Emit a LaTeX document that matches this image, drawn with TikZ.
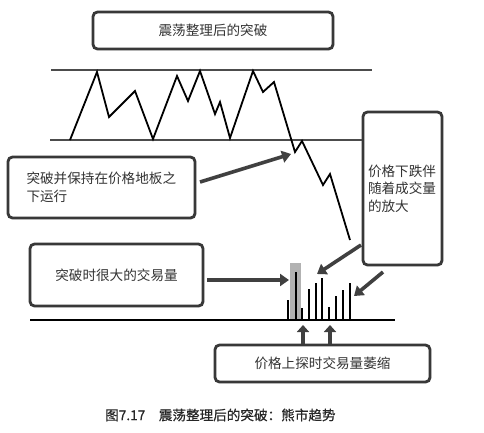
\documentclass[tikz,border=0pt]{standalone}
\usepackage{fontspec}
\newfontfamily\cjk{Noto Sans CJK SC}
\newfontfamily\cjkb{Noto Sans CJK SC}[FakeBold=0.6]
\usetikzlibrary{shadows,arrows.meta}
\begin{document}
\begin{tikzpicture}[x=1pt,y=-1pt,
  box/.style={draw=black!78, line width=2.8pt, rounded corners=4.5pt, fill=white,
    drop shadow={shadow xshift=1.2pt, shadow yshift=-1.2pt, opacity=0.35},
    font=\cjk\fontsize{13.6pt}{17.5pt}\selectfont, text=black!80, inner sep=0pt},
  bigarrow/.style={draw=black!75, line width=3.6pt, -{Triangle[length=9pt,width=12pt]}},
  uparrow/.style={draw=black!75, line width=4pt, -{Triangle[length=7pt,width=12pt]}},
  hline/.style={draw=black!70, line width=1.4pt},
  price/.style={draw=black, line width=1.8pt, line join=miter},
  bar/.style={draw=black, line width=1.8pt}
]
\useasboundingbox (0,0) rectangle (484,432);
\fill[white] (0,0) rectangle (484,432);

% boxes
\node[box, minimum width=240pt, minimum height=37pt] (top) at (213,30.5) {震荡整理后的突破};
\node[box, minimum width=187pt, minimum height=61pt, text width=150pt, align=left] (floor) at (101.5,187.5) {突破并保持在价格地板之\\下运行};
\node[box, minimum width=173pt, minimum height=62pt] (vol) at (116.5,275) {突破时很大的交易量};
\node[box, minimum width=79pt, minimum height=153pt, text width=69pt, align=left] (fall) at (402.5,188.5) {价格下跌伴\\随着成交量\\的放大};
\node[box, minimum width=215pt, minimum height=37pt] (shrink) at (322.5,363.5) {价格上探时交易量萎缩};

% range lines
\coordinate (r1a) at (51,70); \coordinate (r1b) at (372,70);
\coordinate (r2a) at (50,140);
\draw[hline] (r1a) -- (r1b);
\draw[hline] (r2a) -- (fall.west |- r2a);

% price path
\draw[price] (70,140) -- (97,72) -- (109,117) -- (135,91) -- (153,139) -- (177,76)
  -- (188,101) -- (200,71) -- (215,114) -- (220,102) -- (230,138) -- (253,71)
  -- (263,92) -- (274,82) -- (295,152) -- (302,141) -- (323,185) -- (330,174) -- (350,240);

% volume
\fill[black!30] (290,263) rectangle (301,320);
\coordinate (bl) at (30,320); \coordinate (br) at (395,320);
\draw[bar] (bl) -- (br);
\foreach \x/\t in {288/300, 296/272, 302/308, 309/289, 316/283, 322/278, 329/307, 336/296, 343/290, 350/283}
  \draw[bar] (\x,320) -- (\x,\t);

% arrows
\coordinate (a1s) at (200,182); \coordinate (a1e) at (291,154);
\draw[bigarrow] (a1s) -- (a1e);
\coordinate (a2s) at (207,280); \coordinate (a2e) at (289,280);
\draw[bigarrow] (a2s) -- (a2e);
\coordinate (a3s) at (361,245); \coordinate (a3e) at (317,274);
\draw[bigarrow] (a3s) -- (a3e);
\coordinate (a4s) at (383,272); \coordinate (a4e) at (354,296);
\draw[bigarrow] (a4s) -- (a4e);
\coordinate (u1) at (303,325); \coordinate (u2) at (330,325);
\draw[uparrow] (shrink.north -| u1) -- (u1);
\draw[uparrow] (shrink.north -| u2) -- (u2);

% caption
\node[anchor=west, font=\cjkb\fontsize{13.6pt}{16pt}\selectfont, text=black!85, inner sep=0pt] (cap) at (105,415) {图7.17　震荡整理后的突破：熊市趋势};
\end{tikzpicture}
\end{document}
